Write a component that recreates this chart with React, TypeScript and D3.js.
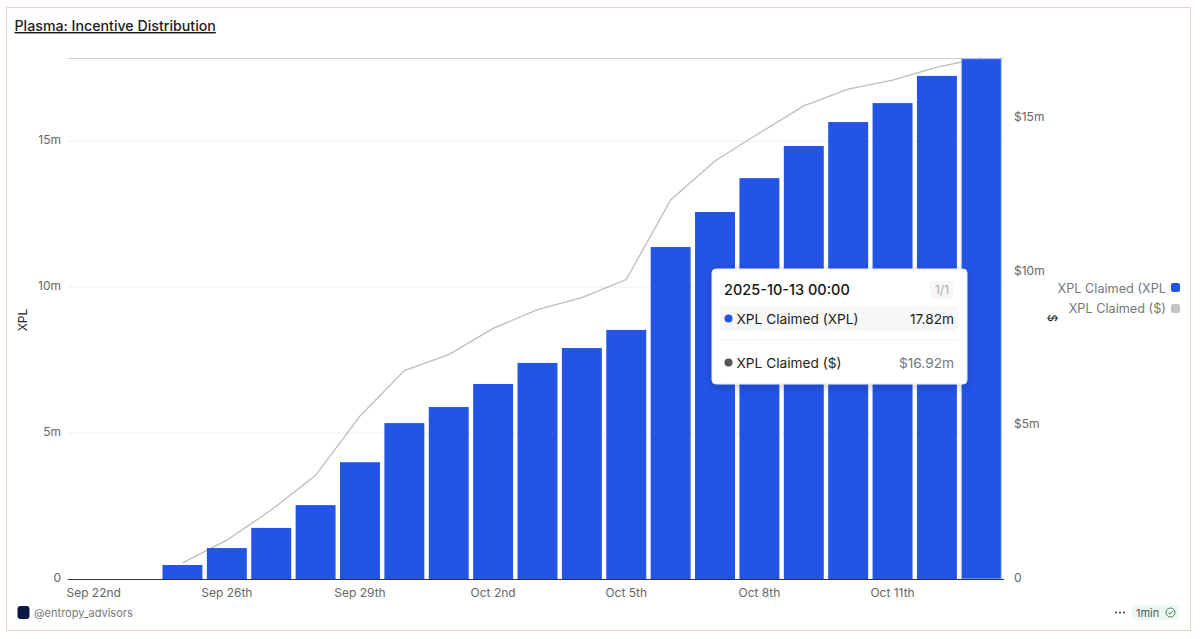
import React from "react";
import * as d3 from "d3";

const dates = ["Sep 22", "Sep 24", "Sep 25", "Sep 26", "Sep 27", "Sep 28", "Sep 29", "Sep 30", "Oct 1", "Oct 2", "Oct 3", "Oct 4", "Oct 5", "Oct 6", "Oct 7", "Oct 8", "Oct 9", "Oct 10", "Oct 11", "Oct 12", "Oct 13"];
const xplClaimed = [0, 0, 0.48, 1.06, 1.75, 2.53, 4.0, 5.34, 5.89, 6.68, 7.4, 7.91, 8.53, 11.37, 12.57, 13.73, 14.83, 15.65, 16.3, 17.23, 17.82];
const usdClaimed = [null, null, 0.49, 1.23, 2.21, 3.34, 5.27, 6.75, 7.27, 8.12, 8.73, 9.12, 9.71, 12.3, 13.57, 14.48, 15.36, 15.91, 16.2, 16.62, 16.92];
const xTickLabels: [string, string][] = [["Sep 22", "Sep 22nd"], ["Sep 26", "Sep 26th"], ["Sep 29", "Sep 29th"], ["Oct 2", "Oct 2nd"], ["Oct 5", "Oct 5th"], ["Oct 8", "Oct 8th"], ["Oct 11", "Oct 11th"]];
const leftTicks = [0, 5, 10, 15];
const rightTicks = [0, 5, 10, 15];

const FONT = "Inter, 'Noto Sans', sans-serif";
const BLUE = "#2354e6";
const GREY = "#c4c4c4";

export default function App() {
  const x = d3.scaleBand<string>().domain(dates).range([71.5, 1003.5]).paddingInner(0.1).paddingOuter(0.05);
  const yL = d3.scaleLinear().domain([0, 17.82]).range([579, 58.7]);
  const yR = d3.scaleLinear().domain([0, 16.92]).range([578, 58]);
  const cx = (d: string) => (x(d) as number) + x.bandwidth() / 2;
  const line = d3
    .line<number | null>()
    .defined((d) => d !== null)
    .x((_, i) => cx(dates[i]))
    .y((d) => yR(d as number));
  const lastXpl = xplClaimed[xplClaimed.length - 1];
  const lastUsd = usdClaimed[usdClaimed.length - 1] as number;

  return (
    <svg width={1200} height={639} style={{ position: "absolute", left: 0, top: 0, background: "#fff" }} fontFamily={FONT}>
      <defs>
        <filter id="tipShadow" x="-10%" y="-15%" width="120%" height="135%">
          <feDropShadow dx="0" dy="2" stdDeviation="5" floodColor="#000" floodOpacity="0.22" />
        </filter>
      </defs>
      <rect x={6.5} y={7.5} width={1184} height={623} fill="#fff" stroke="#f0cfc6" strokeWidth={1} />
      <text x={14.5} y={31} fontSize={14.2} fontWeight={500} fill="#1c1c1c" textDecoration="underline">Plasma: Incentive Distribution</text>

      {leftTicks.slice(1).map((t) => (
        <line key={t} x1={68} x2={1004} y1={yL(t)} y2={yL(t)} stroke="#efeff1" strokeWidth={1} />
      ))}
      <line x1={68} x2={1004} y1={58.5} y2={58.5} stroke="#cfcfd2" strokeWidth={1} />

      <path d={line(usdClaimed) as string} fill="none" stroke="#bdbdbd" strokeWidth={1.3} />

      {dates.map((d, i) =>
        xplClaimed[i] > 0 ? (
          <rect
            key={d}
            x={x(d)}
            y={yL(xplClaimed[i])}
            width={x.bandwidth()}
            height={yL(0) - yL(xplClaimed[i])}
            fill={BLUE}
            stroke={i === dates.length - 1 ? "#a9c1fb" : "none"}
            strokeWidth={1}
          />
        ) : null
      )}
      <line x1={68} x2={1004} y1={579.5} y2={579.5} stroke="#333" strokeWidth={1} />

      {leftTicks.map((t) => (
        <text key={t} x={61} y={yL(t) + 2.5} fontSize={12} fill="#666" textAnchor="end">{t === 0 ? "0" : `${t}m`}</text>
      ))}
      {rightTicks.map((t) => (
        <text key={t} x={1014} y={yR(t) + 4} fontSize={12} fill="#666">{t === 0 ? "0" : `$${t}m`}</text>
      ))}
      {xTickLabels.map(([d, label]) => (
        <text key={d} x={cx(d)} y={597} fontSize={12} fill="#666" textAnchor="middle">{label}</text>
      ))}

      <text transform="translate(27,320) rotate(-90)" fontSize={12} fill="#222" textAnchor="middle">XPL</text>
      <text transform="translate(1048,318) rotate(90)" fontSize={12} fill="#222" textAnchor="middle">$</text>

      <text x={1166} y={292.5} fontSize={12.7} fill="#777" textAnchor="end">XPL Claimed (XPL</text>
      <rect x={1171} y={283} width={9} height={9} rx={2} fill={BLUE} />
      <text x={1166} y={312.5} fontSize={12.7} fill="#777" textAnchor="end">XPL Claimed ($)</text>
      <rect x={1171} y={304} width={9} height={9} rx={2} fill={GREY} />

      <g>
        <rect x={712} y={269} width={255} height={115} rx={4} fill="#fff" stroke="#e8e8ea" filter="url(#tipShadow)" />
        <text x={724} y={295} fontSize={14.5} fontWeight={500} fill="#151515">2025-10-13 00:00</text>
        <rect x={930} y={281} width={23} height={18} rx={3} fill="#f6f6f6" />
        <text x={942} y={294} fontSize={12} fill="#aaa" textAnchor="middle">1/1</text>
        <rect x={720} y={306} width={238} height={25} rx={2} fill="#f7f7f7" />
        <circle cx={728.5} cy={318.5} r={4} fill={BLUE} />
        <text x={736.5} y={323.5} fontSize={13.7} fill="#222">XPL Claimed (XPL)</text>
        <text x={954} y={323.5} fontSize={13.7} fill="#222" textAnchor="end">{`${lastXpl}m`}</text>
        <line x1={720} x2={958} y1={339.5} y2={339.5} stroke="#f3f3f3" />
        <circle cx={728.5} cy={362.5} r={4} fill="#555" />
        <text x={736.5} y={367.5} fontSize={13.7} fill="#222">XPL Claimed ($)</text>
        <text x={954} y={367.5} fontSize={13.7} fill="#777" textAnchor="end">{`$${lastUsd}m`}</text>
      </g>

      <rect x={17.5} y={606} width={12} height={13} rx={3} fill="#0b1a45" />
      <text x={34} y={616.5} fontSize={11} fill="#777">@entropy_advisors</text>

      <g fill="#333">
        <circle cx={1116} cy={612.5} r={1} />
        <circle cx={1120} cy={612.5} r={1} />
        <circle cx={1124} cy={612.5} r={1} />
      </g>
      <rect x={1132} y={605} width={47} height={15} rx={3} fill="#eef9f1" />
      <text x={1136} y={616.5} fontSize={11} fill="#556">1min</text>
      <circle cx={1170.5} cy={612.5} r={4.5} fill="none" stroke="#4b7a5c" strokeWidth={1} />
      <path d="M1168.5 612.5 l1.5 1.6 l2.6 -3" fill="none" stroke="#4b7a5c" strokeWidth={1} />
    </svg>
  );
}
